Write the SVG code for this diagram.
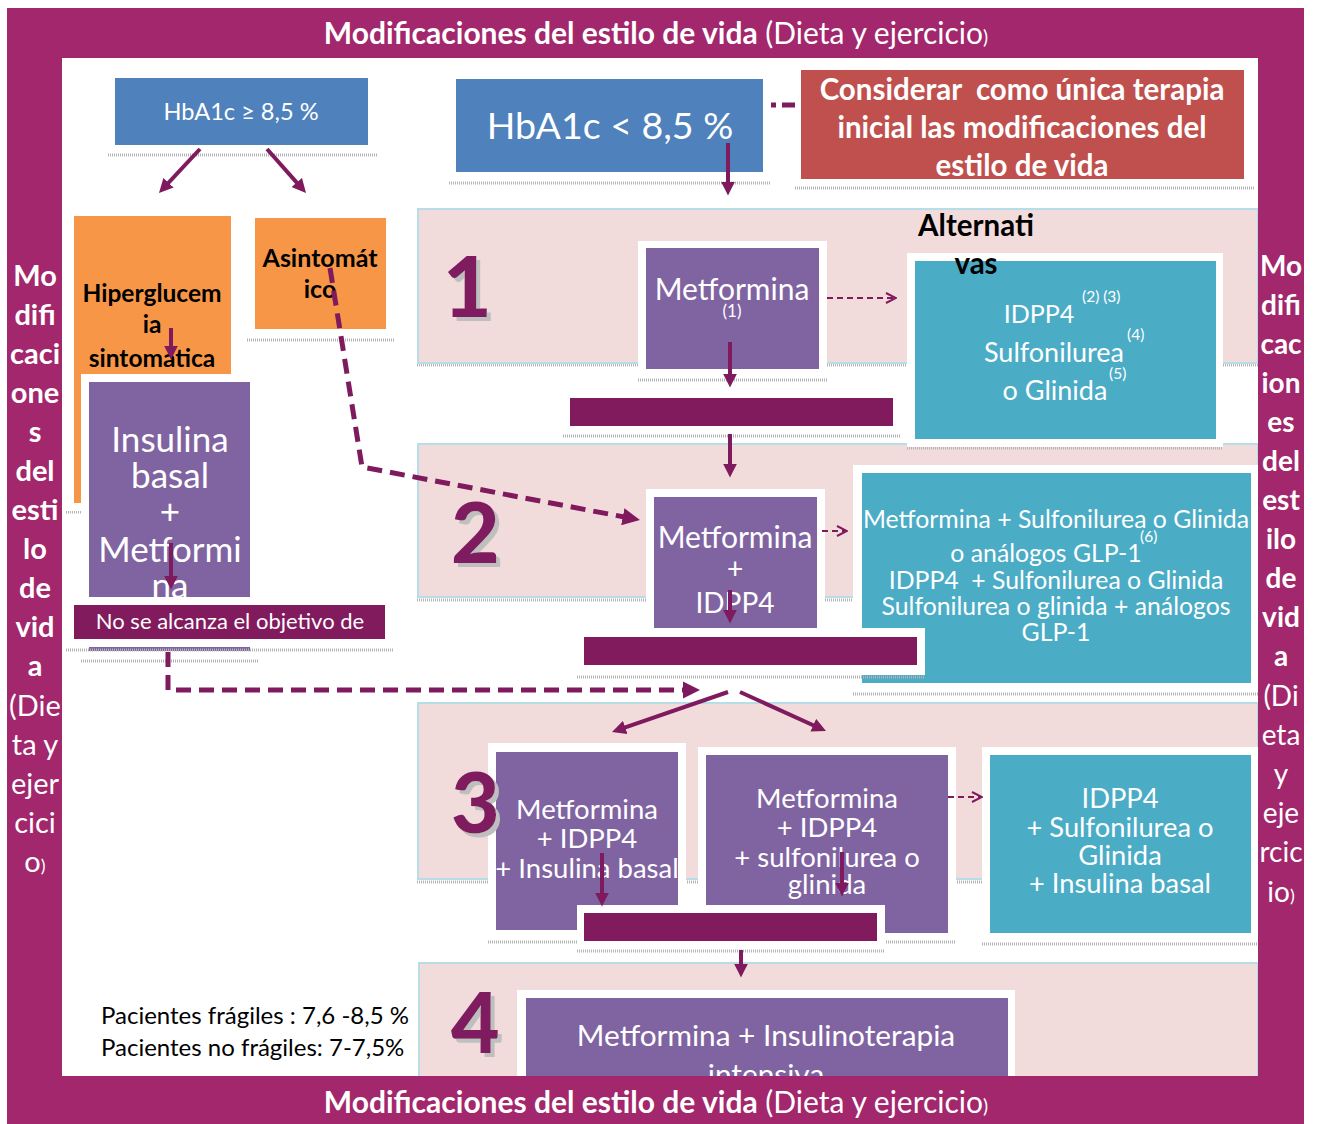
<svg xmlns="http://www.w3.org/2000/svg" width="1317" height="1124" viewBox="0 0 1317 1124">
<defs>
<style>
text{font-family:Lato,"Liberation Sans",sans-serif}
.wt{fill:#fff}
.bk{fill:#000}
.bd{font-weight:bold}
.fr{fill:#fff}
.sh{stroke:#b3b3b3;stroke-width:3;stroke-dasharray:1 1;fill:none}
.row{fill:#F2DCDB;stroke:#B7DDE8;stroke-width:2}
.blue{fill:#4F81BD}
.red{fill:#C0504D}
.org{fill:#F79646}
.pur{fill:#8064A2}
.teal{fill:#4BACC6}
.bar{fill:#821A5E}
.band{fill:#A2276C}
.num{font-weight:900;font-size:84px;fill:#7F1A5E;filter:url(#ns)}
.c{stroke:#7F1A5E;fill:none;stroke-width:4}
.cd{stroke:#7F1A5E;fill:none;stroke-width:5;stroke-dasharray:15 8}
.ct{stroke:#7F1A5E;fill:none;stroke-width:2;stroke-dasharray:6 4}
</style>
<filter id="ns" x="-20%" y="-20%" width="160%" height="160%"><feOffset in="SourceAlpha" dx="4" dy="4" result="o"/><feFlood flood-color="#BFBFBF"/><feComposite in2="o" operator="in" result="s"/><feMerge><feMergeNode in="s"/><feMergeNode in="SourceGraphic"/></feMerge></filter>
<marker id="a" viewBox="0 0 10 10" refX="6" refY="5" markerWidth="3.5" markerHeight="3.5" orient="auto"><path d="M0,0L10,5L0,10z" fill="#7F1A5E"/></marker>
<marker id="o" viewBox="0 0 12 12" refX="11" refY="6" markerWidth="6" markerHeight="6" orient="auto"><path d="M1,1L11,6L1,11" fill="none" stroke="#7F1A5E" stroke-width="2"/></marker>
</defs>
<rect width="1317" height="1124" fill="#fff"/>

<g id="row1"><line class="sh" x1="417" y1="365" x2="1258" y2="365"/><rect class="row" x="418" y="209" width="840" height="154"/></g>
<g id="row2"><line class="sh" x1="417" y1="600" x2="1258" y2="600"/><rect class="row" x="418" y="444" width="840" height="153"/></g>
<g id="row3"><line class="sh" x1="417" y1="882" x2="1258" y2="882"/><rect class="row" x="418" y="703" width="840" height="176"/></g>
<g id="row4"><rect class="row" x="419" y="963" width="839" height="140"/></g>

<g id="hba1c-high"><line class="sh" x1="108" y1="155" x2="377" y2="155"/><rect class="blue" x="115" y="78" width="253" height="67"/><text class="wt" x="241" y="120" font-size="23.6" text-anchor="middle">HbA1c ≥ 8,5 %</text></g>
<g id="hba1c-low"><line class="sh" x1="449" y1="183" x2="770" y2="183"/><rect class="blue" x="456" y="79" width="307" height="93"/><text class="wt" x="610" y="139" font-size="37.5" text-anchor="middle">HbA1c &lt; 8,5 %</text></g>
<g id="considerar"><line class="sh" x1="795" y1="188" x2="1255" y2="188"/><rect class="fr" x="795" y="64" width="456" height="122"/><rect class="red" x="801" y="70" width="443" height="109"/>
<text class="wt bd" font-size="29.5" text-anchor="middle"><tspan x="1022" y="100">Considerar&#160; como única terapia</tspan><tspan x="1022" y="138">inicial las modificaciones del</tspan><tspan x="1022" y="176">estilo de vida</tspan></text></g>

<g id="hiperglucemia"><line class="sh" x1="66" y1="512" x2="240" y2="512"/><rect class="fr" x="66" y="208" width="173" height="303"/><rect class="org" x="74" y="216" width="157" height="287"/>
<text class="bk bd" font-size="24.5" text-anchor="middle"><tspan x="152" y="302">Hiperglucem</tspan><tspan x="152" y="333">ia</tspan><tspan x="152" y="367">sintomatica</tspan></text></g>
<g id="asintomatico"><line class="sh" x1="247" y1="340" x2="394" y2="340"/><rect class="fr" x="247" y="210" width="147" height="127"/><rect class="org" x="255" y="218" width="131" height="111"/>
<text class="bk bd" font-size="25" text-anchor="middle"><tspan x="320" y="267">Asintomát</tspan><tspan x="320" y="298">ico</tspan></text></g>
<g id="insulina"><line class="sh" x1="81" y1="661" x2="258" y2="661"/><rect class="fr" x="81" y="374" width="177" height="285"/><rect class="pur" x="89" y="382" width="161" height="269"/>
<text class="wt" font-size="35" text-anchor="middle"><tspan x="170" y="452">Insulina</tspan><tspan x="170" y="488">basal</tspan><tspan x="170" y="524">+</tspan><tspan x="170" y="562">Metformi</tspan><tspan x="170" y="598">na</tspan></text></g>
<g id="bar-left"><line class="sh" x1="66" y1="650" x2="394" y2="650"/><rect class="fr" x="66" y="597" width="327" height="50"/><rect class="bar" x="74" y="605" width="311" height="34"/><text class="wt" x="230" y="629" font-size="22" text-anchor="middle">No se alcanza el objetivo de</text></g>

<g id="metformina1"><line class="sh" x1="638" y1="380" x2="827" y2="380"/><rect class="fr" x="638" y="241" width="189" height="137"/><rect class="pur" x="646" y="248" width="173" height="121"/>
<text class="wt" x="732" y="300" font-size="30" text-anchor="middle">Metformina</text><text class="wt" x="732" y="317" font-size="17" text-anchor="middle">(1)</text></g>
<g id="alt1"><line class="sh" x1="907" y1="448" x2="1223" y2="448"/><rect class="fr" x="907" y="253" width="316" height="194"/><rect class="teal" x="915" y="261" width="301" height="178"/>
<text class="wt" text-anchor="middle"><tspan x="1039" y="323" font-size="25">IDPP4</tspan><tspan x="1054" y="362" font-size="27">Sulfonilurea</tspan><tspan x="1055" y="400" font-size="27">o Glinida</tspan></text>
<text class="wt" font-size="15.5"><tspan x="1082" y="302">(2) (3)</tspan><tspan x="1127" y="340">(4)</tspan><tspan x="1109" y="379">(5)</tspan></text></g>
<g id="alternativas"><text class="bk bd" font-size="29.5" text-anchor="middle"><tspan x="976" y="236">Alternati</tspan><tspan x="976" y="274">vas</tspan></text></g>
<g id="bar1"><line class="sh" x1="563" y1="436" x2="901" y2="436"/><rect class="fr" x="563" y="393" width="338" height="41"/><rect class="bar" x="570" y="398" width="323" height="28"/></g>

<g id="met-idpp4"><rect class="fr" x="646" y="489" width="179" height="147"/><rect class="pur" x="654" y="497" width="163" height="132"/>
<text class="wt" text-anchor="middle"><tspan x="735" y="548" font-size="30">Metformina</tspan><tspan x="735" y="579" font-size="28">+</tspan><tspan x="735" y="613" font-size="28">IDPP4</tspan></text></g>
<g id="alt2"><line class="sh" x1="853" y1="694" x2="1258" y2="694"/><rect class="fr" x="853" y="465" width="405" height="227"/><rect class="teal" x="862" y="473" width="389" height="210"/>
<text class="wt" font-size="24.8" text-anchor="middle"><tspan x="1056" y="528">Metformina + Sulfonilurea o Glinida</tspan><tspan x="1046" y="562">o análogos GLP-1</tspan><tspan x="1056" y="589">IDPP4&#160; + Sulfonilurea o Glinida</tspan><tspan x="1056" y="615">Sulfonilurea o glinida + análogos</tspan><tspan x="1056" y="641">GLP-1</tspan></text>
<text class="wt" x="1140" y="542" font-size="15.5">(6)</text></g>
<g id="bar2"><line class="sh" x1="577" y1="677" x2="925" y2="677"/><rect class="fr" x="577" y="628" width="348" height="47"/><rect class="bar" x="584" y="637" width="333" height="28"/></g>

<g id="met3a"><line class="sh" x1="488" y1="942" x2="686" y2="942"/><rect class="fr" x="488" y="743" width="198" height="197"/><rect class="pur" x="496" y="752" width="182" height="178"/>
<text class="wt" font-size="27.5" text-anchor="middle"><tspan x="587" y="819">Metformina</tspan><tspan x="587" y="848">+ IDPP4</tspan><tspan x="587" y="878">+ Insulina basal</tspan></text></g>
<g id="met3b"><line class="sh" x1="698" y1="942" x2="956" y2="942"/><rect class="fr" x="698" y="747" width="258" height="193"/><rect class="pur" x="706" y="755" width="242" height="178"/>
<text class="wt" font-size="27.5" text-anchor="middle"><tspan x="827" y="808">Metformina</tspan><tspan x="827" y="837">+ IDPP4</tspan><tspan x="827" y="867">+ sulfonilurea o</tspan><tspan x="827" y="894">glinida</tspan></text></g>
<g id="alt3"><line class="sh" x1="982" y1="944" x2="1258" y2="944"/><rect class="fr" x="982" y="747" width="276" height="193"/><rect class="teal" x="990" y="755" width="261" height="178"/>
<text class="wt" font-size="27.3" text-anchor="middle"><tspan x="1120" y="808">IDPP4</tspan><tspan x="1120" y="837">+ Sulfonilurea o</tspan><tspan x="1120" y="865">Glinida</tspan><tspan x="1120" y="893">+ Insulina basal</tspan></text></g>
<g id="bar3"><line class="sh" x1="577" y1="951" x2="885" y2="951"/><rect class="fr" x="577" y="905" width="308" height="42"/><rect class="bar" x="584" y="913" width="293" height="28"/></g>

<g id="met4"><rect class="fr" x="517" y="990" width="498" height="120"/><rect class="pur" x="526" y="998" width="482" height="110"/>
<text class="wt" font-size="29.8" text-anchor="middle"><tspan x="766" y="1046">Metformina + Insulinoterapia</tspan><tspan x="766" y="1085">intensiva</tspan></text></g>
<g id="targets"><text class="bk" font-size="24"><tspan x="101" y="1024">Pacientes frágiles : 7,6 -8,5 %</tspan><tspan x="101" y="1056">Pacientes no frágiles: 7-7,5%</tspan></text></g>

<g id="step-numbers">
<text class="num" x="443" y="317">1</text>
<text class="num" x="451" y="563">2</text>
<text class="num" x="451" y="833">3</text>
<text class="num" x="451" y="1053">4</text>
</g>

<g id="connectors">
<path class="c" d="M200,149L162.8,188.9" marker-end="url(#a)"/>
<path class="c" d="M267,149L302.3,188.8" marker-end="url(#a)"/>
<path class="c" d="M728,143L728,190" marker-end="url(#a)"/>
<path d="M771,105L795,105" stroke="#7F1A5E" stroke-width="5" stroke-dasharray="5 6 13"/>
<path class="c" d="M171,328L171,354" marker-end="url(#a)"/>
<path class="c" d="M171,543L171,584" marker-end="url(#a)"/>
<path class="cd" d="M330,268L362,467L633.1,518.7" marker-end="url(#a)"/>
<path class="cd" d="M168,652L168,690L693,690" marker-end="url(#a)"/>
<path class="ct" d="M827,298L896,298" marker-end="url(#o)"/>
<path class="c" d="M730,342L730,382" marker-end="url(#a)"/>
<path class="c" d="M730,434L730,472" marker-end="url(#a)"/>
<path class="c" d="M730,590L730,618" marker-end="url(#a)"/>
<path class="ct" d="M822,531L847,531" marker-end="url(#o)"/>
<path class="c" d="M728,692L617.3,730.2" marker-end="url(#a)"/>
<path class="c" d="M740,692L820.9,728.7" marker-end="url(#a)"/>
<path class="ct" d="M948,797L982,797" marker-end="url(#o)"/>
<path class="c" d="M602,853L602,901" marker-end="url(#a)"/>
<path class="c" d="M842,852L842,891" marker-end="url(#a)"/>
<path class="c" d="M741,950L741,972" marker-end="url(#a)"/>
</g>

<g id="frame">
<rect class="band" x="7" y="8" width="1297" height="50"/>
<rect class="band" x="7" y="8" width="55" height="1116"/>
<rect class="band" x="1258" y="58" width="46" height="1020"/>
<rect class="band" x="7" y="1076" width="1297" height="48"/>
<text class="wt" x="656" y="44" font-size="30" text-anchor="middle"><tspan class="bd">Modificaciones del estilo de vida</tspan> (Dieta y ejercicio<tspan font-size="19">)</tspan></text>
<text class="wt" x="656" y="1113" font-size="30" text-anchor="middle"><tspan class="bd">Modificaciones del estilo de vida</tspan> (Dieta y ejercicio<tspan font-size="19">)</tspan></text>
<text class="wt" font-size="29" text-anchor="middle"><tspan class="bd" x="35" y="286">Mo</tspan><tspan class="bd" x="35" y="325">difi</tspan><tspan class="bd" x="35" y="364">caci</tspan><tspan class="bd" x="35" y="403">one</tspan><tspan class="bd" x="35" y="442">s</tspan><tspan class="bd" x="35" y="481">del</tspan><tspan class="bd" x="35" y="520">esti</tspan><tspan class="bd" x="35" y="559">lo</tspan><tspan class="bd" x="35" y="598">de</tspan><tspan class="bd" x="35" y="637">vid</tspan><tspan class="bd" x="35" y="676">a</tspan><tspan x="35" y="716">(Die</tspan><tspan x="35" y="755">ta y</tspan><tspan x="35" y="794">ejer</tspan><tspan x="35" y="833">cici</tspan><tspan x="35" y="872">o<tspan font-size="18">)</tspan></tspan></text>
<text class="wt" font-size="28" text-anchor="middle"><tspan class="bd" x="1281" y="276">Mo</tspan><tspan class="bd" x="1281" y="315">difi</tspan><tspan class="bd" x="1281" y="354">cac</tspan><tspan class="bd" x="1281" y="393">ion</tspan><tspan class="bd" x="1281" y="432">es</tspan><tspan class="bd" x="1281" y="471">del</tspan><tspan class="bd" x="1281" y="510">est</tspan><tspan class="bd" x="1281" y="549">ilo</tspan><tspan class="bd" x="1281" y="588">de</tspan><tspan class="bd" x="1281" y="627">vid</tspan><tspan class="bd" x="1281" y="666">a</tspan><tspan x="1281" y="706">(Di</tspan><tspan x="1281" y="745">eta</tspan><tspan x="1281" y="784">y</tspan><tspan x="1281" y="823">eje</tspan><tspan x="1281" y="862">rcic</tspan><tspan x="1281" y="902">io<tspan font-size="18">)</tspan></tspan></text>
</g>
</svg>
